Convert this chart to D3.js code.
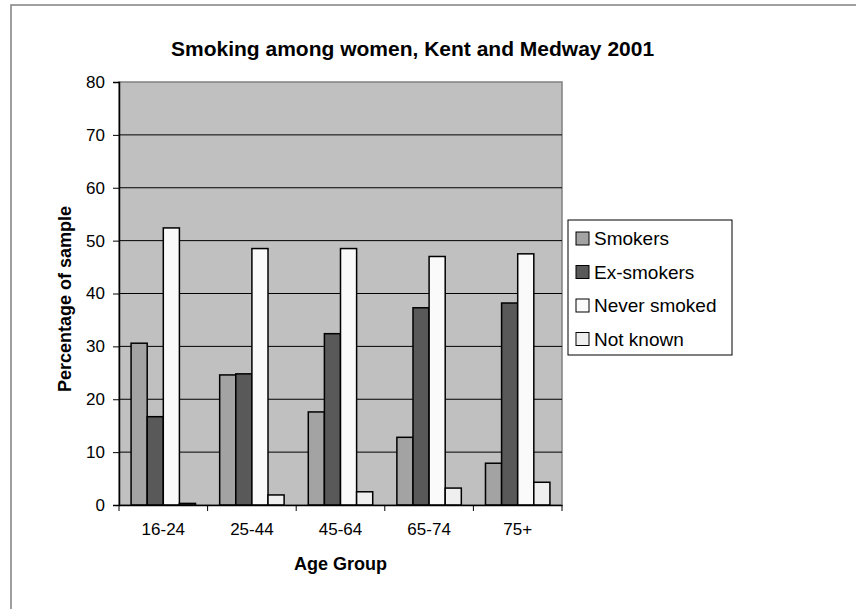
<!DOCTYPE html>
<html><head><meta charset="utf-8">
<script src="https://cdn.jsdelivr.net/npm/d3@7"></script>
<style>html,body{margin:0;padding:0;background:#fff;}svg{display:block;font-family:"Liberation Sans",Arial,sans-serif;}</style>
</head><body>
<script>
const categories = ["16-24","25-44","45-64","65-74","75+"];
const seriesNames = ["Smokers","Ex-smokers","Never smoked","Not known"];
const smokers = [30.6, 24.6, 17.6, 12.8, 7.9];
const exSmokers = [16.7, 24.8, 32.4, 37.3, 38.2];
const neverSmoked = [52.4, 48.5, 48.5, 47.0, 47.5];
const notKnown = [0.3, 1.9, 2.5, 3.2, 4.3];
const yTicks = [0,10,20,30,40,50,60,70,80];
const colors = ["#a3a3a3","#595959","#fafafa","#efefef"];

(function(){
const seriesValues = [smokers, exSmokers, neverSmoked, notKnown];
const W = 856, H = 609;
const svg = d3.select("body").append("svg").attr("width", W).attr("height", H);

svg.append("path").attr("d", `M11,${H} L11,5 L${W},5`).attr("fill","none").attr("stroke","#808080").attr("stroke-width",1.5);

const pL = 119, pR = 562, pT = 82, pB = 505;
const x0 = d3.scaleBand().domain(categories).range([pL, pR]).paddingInner(0).paddingOuter(0);
const x1 = d3.scaleBand().domain(seriesNames).range([0, x0.bandwidth()]).paddingInner(0).paddingOuter(0.75);
const y = d3.scaleLinear().domain([0, 80]).range([pB, pT]);

svg.append("rect").attr("x", pL).attr("y", pT).attr("width", pR-pL).attr("height", pB-pT)
  .attr("fill","#c0c0c0").attr("stroke","#808080").attr("stroke-width",1.5);

svg.append("g").selectAll("line").data(yTicks.filter(d => d > 0 && d < 80)).join("line")
  .attr("x1", pL).attr("x2", pR).attr("y1", d => y(d)).attr("y2", d => y(d))
  .attr("stroke","#000").attr("stroke-width",1);

const groups = svg.append("g").selectAll("g").data(categories).join("g")
  .attr("transform", d => `translate(${x0(d)},0)`);
groups.selectAll("rect").data((c, i) => seriesNames.map((s, j) => ({s, j, v: seriesValues[j][i]}))).join("rect")
  .attr("x", d => x1(d.s)).attr("width", x1.bandwidth())
  .attr("y", d => y(d.v)).attr("height", d => y(0) - y(d.v))
  .attr("fill", d => colors[d.j]).attr("stroke","#000").attr("stroke-width",1.5);

const yAxis = svg.append("g").attr("transform", `translate(${pL},0)`)
  .call(d3.axisLeft(y).tickValues(yTicks).tickSize(6).tickPadding(8));
yAxis.select(".domain").attr("stroke","#000").attr("stroke-width",1.5);
yAxis.selectAll(".tick line").attr("stroke","#000");
yAxis.selectAll("text").attr("font-size", 17).attr("fill","#000").attr("font-family","Liberation Sans, Arial, sans-serif");

const xAxis = svg.append("g").attr("transform", `translate(0,${pB})`)
  .call(d3.axisBottom(x0).tickSize(0).tickPadding(0));
xAxis.select(".domain").attr("stroke","#000").attr("stroke-width",1.5);
xAxis.selectAll(".tick line").remove();
xAxis.selectAll("text").attr("font-size", 17).attr("fill","#000").attr("dy", null).attr("y", 30)
  .attr("font-family","Liberation Sans, Arial, sans-serif");
svg.append("g").selectAll("line").data(categories.concat(["__end"])).join("line")
  .attr("x1", (d,i) => i < categories.length ? x0(d) : pR)
  .attr("x2", (d,i) => i < categories.length ? x0(d) : pR)
  .attr("y1", pB).attr("y2", pB + 6).attr("stroke","#000").attr("stroke-width",1);

svg.append("text").attr("x", 171).attr("y", 56).attr("font-size", 21).attr("font-weight","bold")
  .text("Smoking among women, Kent and Medway 2001");

svg.append("text").attr("x", (pL+pR)/2).attr("y", 570).attr("text-anchor","middle")
  .attr("font-size", 18).attr("font-weight","bold").text("Age Group");
svg.append("text").attr("transform", `translate(71,299) rotate(-90)`).attr("text-anchor","middle")
  .attr("font-size", 18).attr("font-weight","bold").text("Percentage of sample");

const lg = svg.append("g");
lg.append("rect").attr("x", 568).attr("y", 220).attr("width", 164).attr("height", 135)
  .attr("fill","#fff").attr("stroke","#000").attr("stroke-width",1);
const baselines = [245, 278.5, 312, 345.5];
const items = lg.selectAll("g").data(seriesNames).join("g")
  .attr("transform", (d,i) => `translate(0,${baselines[i]})`);
items.append("rect").attr("x", 576).attr("y", -13).attr("width", 13).attr("height", 13)
  .attr("fill", (d,i) => colors[i]).attr("stroke","#000").attr("stroke-width",1);
items.append("text").attr("x", 594).attr("y", 0).attr("font-size", 19).text(d => d);
})();
</script>
</body></html>
